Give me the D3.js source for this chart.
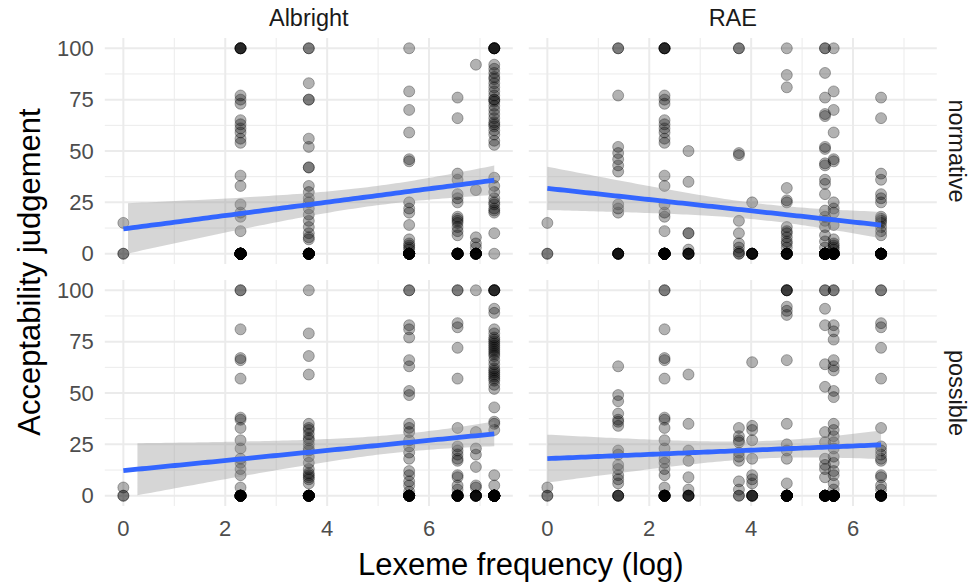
<!DOCTYPE html>
<html>
<head>
<meta charset="utf-8">
<script src="https://cdn.jsdelivr.net/npm/d3@7"></script>
<style>
  body { margin: 0; background: #fff; }
  text { font-family: "Liberation Sans", Arial, sans-serif; }
</style>
</head>
<body>
<svg width="971" height="583"></svg>
<script>
// each column: [log lexeme frequency, number of 0 ratings, other ratings]
const albrightNormative = [
  [0, 2, [15]],
  [2.30, 27, [100, 100, 100, 100, 100, 77, 75, 73, 65, 63, 61, 59, 56, 54, 38, 33, 24, 20, 18, 11]],
  [3.64, 16, [100, 100, 83, 75, 75, 56, 52, 42, 42, 33, 30, 27, 25, 22, 19, 16, 13, 10, 8, 7]],
  [5.61, 17, [100, 79, 70, 59, 46, 45, 25, 22, 20, 14, 7, 5, 4, 3, 2]],
  [6.56, 13, [76, 66, 39, 36, 29, 27, 25, 18, 17, 16, 15, 13, 11, 9]],
  [6.92, 10, [92, 31, 8, 5, 3]],
  [7.28, 1, [100, 100, 100, 100, 100, 100, 92, 90, 88, 86, 85, 83, 81, 79, 77, 75, 75, 74, 72, 70, 68, 66, 64, 63, 62, 60, 58, 55, 53, 37, 33, 30, 27, 25, 24, 22, 21, 20, 10]]
]
const raeNormative = [
  [0, 2, [15]],
  [1.39, 7, [100, 100, 77, 52, 49, 46, 43, 40, 24, 22, 20]],
  [2.30, 20, [100, 100, 100, 100, 100, 77, 75, 73, 65, 63, 61, 59, 56, 54, 38, 33, 24, 20, 18, 11]],
  [2.77, 6, [50, 35, 10, 10, 2]],
  [3.76, 2, [100, 100, 49, 48, 16, 10, 5, 3, 1]],
  [4.02, 8, [25]],
  [4.70, 9, [100, 87, 81, 32, 26, 25, 13, 11, 10, 8, 6, 5, 3]],
  [5.45, 28, [100, 100, 88, 76, 68, 67, 52, 51, 44, 43, 36, 34, 29, 21, 18, 16, 13, 9, 6, 3]],
  [5.62, 15, [100, 79, 70, 59, 46, 45, 25, 22, 20, 14, 7, 5, 4, 3, 2]],
  [6.55, 16, [76, 66, 39, 36, 29, 27, 25, 18, 17, 16, 15, 13, 11, 9]]
]
const albrightPossible = [
  [0, 2, [4]],
  [2.30, 14, [100, 100, 81, 67, 66, 57, 38, 37, 33, 27, 23, 18, 16, 13, 10, 4]],
  [3.64, 14, [100, 79, 68, 59, 35, 33, 32, 30, 28, 27, 25, 23, 22, 19, 16, 13, 11, 10, 9, 8, 6]],
  [5.61, 14, [100, 100, 83, 81, 77, 66, 63, 51, 49, 35, 33, 31, 27, 24, 21, 18, 12, 10, 7, 5, 2]],
  [6.56, 12, [100, 100, 84, 82, 72, 57, 33, 24, 22, 20, 18, 17, 10, 9, 5, 3]],
  [6.92, 8, [100, 31, 23, 20, 14, 5, 4]],
  [7.28, 31, [100, 100, 100, 100, 100, 91, 89, 81, 79, 77, 76, 75, 74, 73, 72, 71, 70, 69, 68, 66, 64, 62, 61, 60, 59, 58, 57, 56, 54, 52, 43, 36, 35, 32, 10, 5]]
]
const raePossible = [
  [0, 2, [4]],
  [1.39, 4, [63, 49, 46, 40, 37, 36, 34, 22, 20, 15, 13, 10, 8, 6]],
  [2.30, 11, [100, 100, 81, 67, 66, 57, 38, 37, 33, 27, 23, 18, 16, 13, 10, 4]],
  [2.77, 5, [59, 35, 22, 17, 9, 3]],
  [3.76, 2, [33, 29, 27, 26, 21, 19, 17, 7, 3]],
  [4.02, 5, [65, 34, 32, 27, 18, 10, 8, 6]],
  [4.70, 19, [100, 100, 100, 100, 92, 90, 88, 66, 35, 25, 22, 18, 6]],
  [5.45, 14, [100, 100, 91, 83, 64, 53, 31, 26, 18, 15, 13, 9]],
  [5.62, 18, [100, 100, 83, 80, 76, 66, 63, 61, 51, 48, 35, 32, 29, 26, 23, 19, 16, 12, 10, 6, 3]],
  [6.55, 11, [100, 100, 84, 82, 72, 57, 33, 24, 22, 20, 18, 17, 10, 9, 5, 3]]
]

const sources = ['Albright', 'RAE']
const conditions = ['normative', 'possible']
const xTicks = [0, 2, 4, 6]
const yTicks = [0, 25, 50, 75, 100]
const yLimits = [0, 100]

const panels = [
  { source: 'Albright', condition: 'normative', cols: albrightNormative },
  { source: 'RAE', condition: 'normative', cols: raeNormative },
  { source: 'Albright', condition: 'possible', cols: albrightPossible },
  { source: 'RAE', condition: 'possible', cols: raePossible }
]

let svg = d3.select('svg')
const panelW = 408
const panelH = 226
const gap = 16
const marginLeft = 104.8
const marginTop = 38

// expand columns into points
panels.forEach(p => {
  p.points = p.cols.flatMap(([fx, zeros, ys]) =>
    d3.range(zeros).map(() => ({ x: fx, y: 0 })).concat(ys.map(v => ({ x: fx, y: v })))
  )
})

const xMax = d3.max(panels, p => d3.max(p.points, d => d.x))
const xPad = xMax * 0.05
const x = d3.scaleLinear().domain([-xPad, xMax + xPad]).range([0, panelW])
const yPad = (yLimits[1] - yLimits[0]) * 0.05
const y = d3.scaleLinear().domain([yLimits[0] - yPad, yLimits[1] + yPad]).range([panelH, 0])

// linear model with 95% confidence band, like geom_smooth(method = 'lm')
function fitLm(points) {
  const n = points.length
  const mx = d3.mean(points, d => d.x)
  const my = d3.mean(points, d => d.y)
  const sxx = d3.sum(points, d => (d.x - mx) ** 2)
  const sxy = d3.sum(points, d => (d.x - mx) * (d.y - my))
  const b = sxy / sxx
  const a = my - b * mx
  const sse = d3.sum(points, d => (d.y - a - b * d.x) ** 2)
  const sigma = Math.sqrt(sse / (n - 2))
  const df = n - 2
  const z = 1.959964
  const t = z + (z ** 3 + z) / (4 * df)
  const [x0, x1] = d3.extent(points, d => d.x)
  return d3.range(80).map(i => {
    const xv = x0 + (x1 - x0) * i / 79
    const fit = a + b * xv
    const se = sigma * Math.sqrt(1 / n + (xv - mx) ** 2 / sxx)
    return { x: xv, y: fit, lo: fit - t * se, hi: fit + t * se }
  })
}

const inLimits = v => v >= yLimits[0] && v <= yLimits[1]

panels.forEach(p => {
  const col = sources.indexOf(p.source)
  const row = conditions.indexOf(p.condition)
  const g = svg.append('g')
    .attr('transform', `translate(${marginLeft + col * (panelW + gap)}, ${marginTop + row * (panelH + gap)})`)

  // grid
  const xMinor = [1, 3, 5, 7].filter(v => x(v) <= panelW)
  const yMinor = [12.5, 37.5, 62.5, 87.5]
  g.selectAll('.xminor').data(xMinor).enter().append('line')
    .attr('x1', d => x(d)).attr('x2', d => x(d)).attr('y1', 0).attr('y2', panelH)
    .attr('stroke', '#ebebeb').attr('stroke-width', 1)
  g.selectAll('.yminor').data(yMinor).enter().append('line')
    .attr('x1', 0).attr('x2', panelW).attr('y1', d => y(d)).attr('y2', d => y(d))
    .attr('stroke', '#ebebeb').attr('stroke-width', 1)
  g.selectAll('.xmajor').data(xTicks).enter().append('line')
    .attr('x1', d => x(d)).attr('x2', d => x(d)).attr('y1', 0).attr('y2', panelH)
    .attr('stroke', '#ebebeb').attr('stroke-width', 2)
  g.selectAll('.ymajor').data(yTicks).enter().append('line')
    .attr('x1', 0).attr('x2', panelW).attr('y1', d => y(d)).attr('y2', d => y(d))
    .attr('stroke', '#ebebeb').attr('stroke-width', 2)

  // points
  g.selectAll('circle').data(p.points).enter().append('circle')
    .attr('cx', d => x(d.x))
    .attr('cy', d => y(d.y))
    .attr('r', 5.5)
    .attr('fill', '#000').attr('fill-opacity', 0.3)
    .attr('stroke', '#000').attr('stroke-opacity', 0.3).attr('stroke-width', 1)

  // smooth: ribbon only where it stays inside the scale limits
  const fit = fitLm(p.points)
  const runs = []
  let cur = []
  fit.forEach(d => {
    if (inLimits(d.lo) && inLimits(d.hi)) cur.push(d)
    else if (cur.length) { runs.push(cur); cur = [] }
  })
  if (cur.length) runs.push(cur)

  const area = d3.area().x(d => x(d.x)).y0(d => y(d.lo)).y1(d => y(d.hi))
  g.selectAll('.band').data(runs).enter().append('path')
    .attr('d', area)
    .attr('fill', '#999999').attr('fill-opacity', 0.4)

  g.append('path')
    .datum(fit.filter(d => inLimits(d.y)))
    .attr('d', d3.line().x(d => x(d.x)).y(d => y(d.y)))
    .attr('fill', 'none')
    .attr('stroke', '#3366ff')
    .attr('stroke-width', 4.8)

  // tick labels on outer panels
  if (col === 0) {
    g.selectAll('.ylab').data(yTicks).enter().append('text')
      .attr('x', -11).attr('y', d => y(d)).attr('dy', '0.35em')
      .attr('text-anchor', 'end')
      .attr('font-size', 22).attr('fill', '#4d4d4d')
      .text(d => d)
  }
  if (row === 1) {
    g.selectAll('.xlab').data(xTicks).enter().append('text')
      .attr('x', d => x(d)).attr('y', panelH + 30)
      .attr('text-anchor', 'middle')
      .attr('font-size', 22).attr('fill', '#4d4d4d')
      .text(d => d)
  }
  // strips
  if (row === 0) {
    g.append('text')
      .attr('x', panelW / 2).attr('y', -12)
      .attr('text-anchor', 'middle')
      .attr('font-size', 23.5).attr('fill', '#1a1a1a')
      .text(p.source)
  }
  if (col === 1) {
    g.append('text')
      .attr('transform', `translate(${panelW + 12}, ${panelH / 2}) rotate(90)`)
      .attr('text-anchor', 'middle')
      .attr('font-size', 23.5).attr('fill', '#1a1a1a')
      .text(p.condition)
  }
})

// axis titles
const fullW = panelW * 2 + gap
const fullH = panelH * 2 + gap
svg.append('text')
  .attr('x', marginLeft + fullW / 2).attr('y', 575)
  .attr('text-anchor', 'middle')
  .attr('font-size', 31).attr('fill', '#000')
  .text('Lexeme frequency (log)')

svg.append('text')
  .attr('transform', `translate(40, ${marginTop + fullH / 2}) rotate(-90)`)
  .attr('text-anchor', 'middle')
  .attr('font-size', 31).attr('fill', '#000')
  .text('Acceptability judgement')
</script>
</body>
</html>
